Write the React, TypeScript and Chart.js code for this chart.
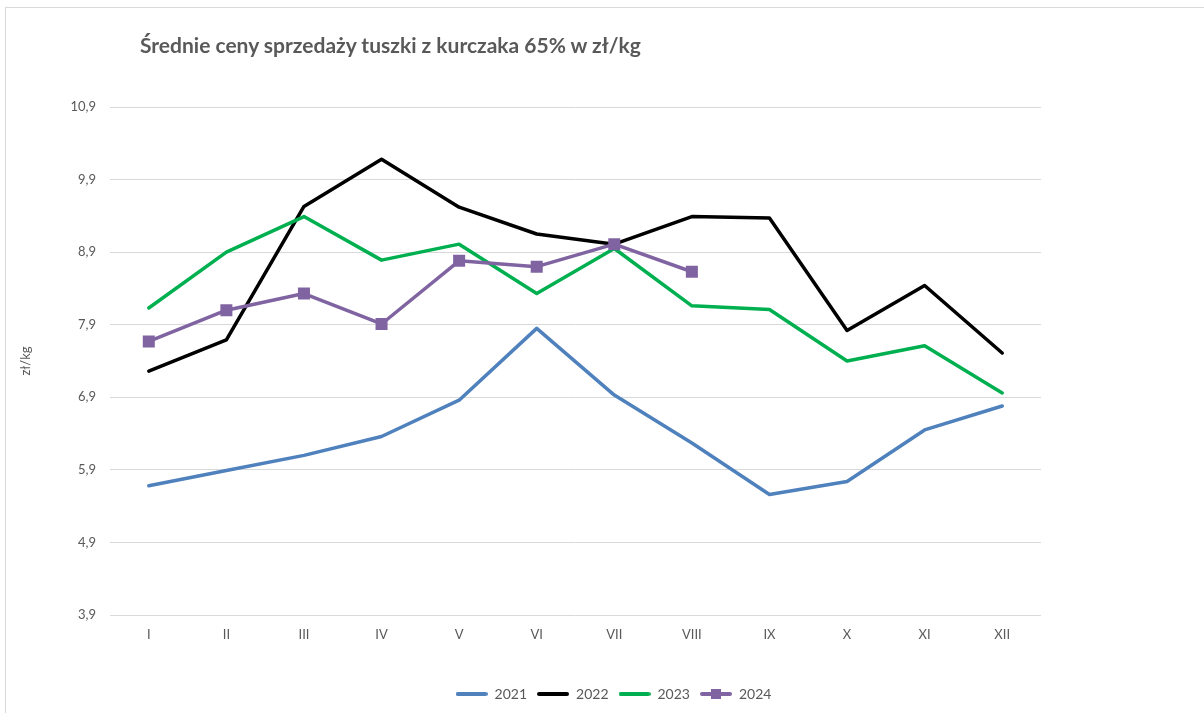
import React, { useEffect, useRef } from "react";
import { Chart, registerables } from "chart.js";

Chart.register(...registerables);

const months = ["I", "II", "III", "IV", "V", "VI", "VII", "VIII", "IX", "X", "XI", "XII"];
const seriesNames = ["2021", "2022", "2023", "2024"];
const prices2021 = [5.68, 5.89, 6.1, 6.36, 6.86, 7.85, 6.93, 6.27, 5.56, 5.74, 6.45, 6.78];
const prices2022 = [7.26, 7.69, 9.53, 10.18, 9.52, 9.15, 9.01, 9.39, 9.37, 7.82, 8.44, 7.51];
const prices2023 = [8.13, 8.9, 9.39, 8.79, 9.01, 8.33, 8.95, 8.16, 8.11, 7.4, 7.61, 6.96];
const prices2024 = [7.67, 8.1, 8.33, 7.91, 8.78, 8.7, 9.01, 8.63];
const yMin = 3.9;
const yMax = 10.9;
const yStep = 1;

const TEXT = "#595959";
const GRID = "#d9d9d9";
const colors = ["#4f81bd", "#000000", "#00b050", "#8064a2"];

// small canvas used as the legend symbol: a line, optionally with a square marker
function legendSymbol(color: string, marker: boolean): HTMLCanvasElement {
  const c = document.createElement("canvas");
  c.width = 32;
  c.height = 14;
  const ctx = c.getContext("2d")!;
  ctx.strokeStyle = color;
  ctx.lineWidth = 4;
  ctx.lineCap = "round";
  ctx.beginPath();
  ctx.moveTo(2, 7);
  ctx.lineTo(30, 7);
  ctx.stroke();
  if (marker) {
    ctx.fillStyle = color;
    ctx.fillRect(11, 2, 10, 10);
  }
  return c;
}

export default function App() {
  const canvasRef = useRef<HTMLCanvasElement | null>(null);

  useEffect(() => {
    if (!canvasRef.current) return;
    const values = [prices2021, prices2022, prices2023, prices2024];

    const chart = new Chart(canvasRef.current, {
      type: "line",
      data: {
        labels: months,
        datasets: seriesNames.map((name, i) => ({
          label: name,
          data: values[i],
          borderColor: colors[i],
          backgroundColor: colors[i],
          borderWidth: 3.5,
          borderJoinStyle: "round" as const,
          borderCapStyle: "round" as const,
          pointStyle: "rect" as const,
          pointRadius: i === 3 ? 8.5 : 0,
          pointBorderWidth: 0,
          pointHoverRadius: i === 3 ? 8.5 : 0,
          tension: 0,
          order: 4 - i,
        })),
      },
      options: {
        animation: false,
        responsive: true,
        maintainAspectRatio: false,
        layout: { padding: { top: 99, right: 0, bottom: 2, left: 0 } },
        plugins: {
          title: { display: false },
          tooltip: { enabled: false },
          legend: {
            position: "bottom",
            labels: {
              usePointStyle: true,
              pointStyleWidth: 32,
              padding: 10,
              color: TEXT,
              font: { family: "Lato", size: 14 },
              generateLabels: (ch) =>
                ch.data.datasets.map((ds, i) => ({
                  text: String(ds.label),
                  fillStyle: colors[i],
                  strokeStyle: colors[i],
                  lineWidth: 0,
                  hidden: false,
                  datasetIndex: i,
                  fontColor: TEXT,
                  pointStyle: legendSymbol(colors[i], i === 3),
                })),
            },
          },
        },
        scales: {
          x: {
            offset: true,
            grid: { display: false, drawTicks: false },
            border: { display: false },
            ticks: { color: TEXT, padding: 12, font: { family: "Lato", size: 13 } },
            afterFit: (s) => {
              s.height = 62;
            },
          },
          y: {
            min: yMin,
            max: yMax,
            ticks: {
              stepSize: yStep,
              color: TEXT,
              padding: 14,
              font: { family: "Lato", size: 13 },
              callback: (v) => Number(v).toFixed(1).replace(".", ","),
            },
            grid: { color: GRID, lineWidth: 1, drawTicks: false },
            border: { display: false },
            title: {
              display: true,
              text: "zł/kg",
              color: TEXT,
              padding: { top: 12, bottom: 0 },
              font: { family: "Lato", size: 13 },
            },
            afterFit: (s) => {
              s.width = 104;
            },
          },
          // empty right-hand space so the legend stays centred on the whole canvas
          yRight: {
            position: "right",
            grid: { display: false, drawTicks: false },
            border: { display: false },
            ticks: { display: false },
            afterFit: (s) => {
              s.width = 180;
            },
          },
        },
      },
    });

    return () => chart.destroy();
  }, []);

  return (
    <div
      style={{
        position: "fixed",
        left: 5,
        top: 7,
        width: 1216,
        height: 706,
        borderTop: `1px solid ${GRID}`,
        borderLeft: `1px solid ${GRID}`,
        boxSizing: "border-box",
        background: "#fff",
      }}
    >
      <div
        style={{
          position: "absolute",
          left: 134,
          top: 24,
          fontFamily: "Lato",
          fontWeight: 700,
          fontSize: 21,
          lineHeight: 1.2,
          color: TEXT,
          whiteSpace: "nowrap",
          zIndex: 1,
        }}
      >
        Średnie ceny sprzedaży tuszki z kurczaka 65% w zł/kg
      </div>
      <div style={{ position: "absolute", left: 0, top: 0, width: 1215, height: 705 }}>
        <canvas ref={canvasRef} />
      </div>
    </div>
  );
}
